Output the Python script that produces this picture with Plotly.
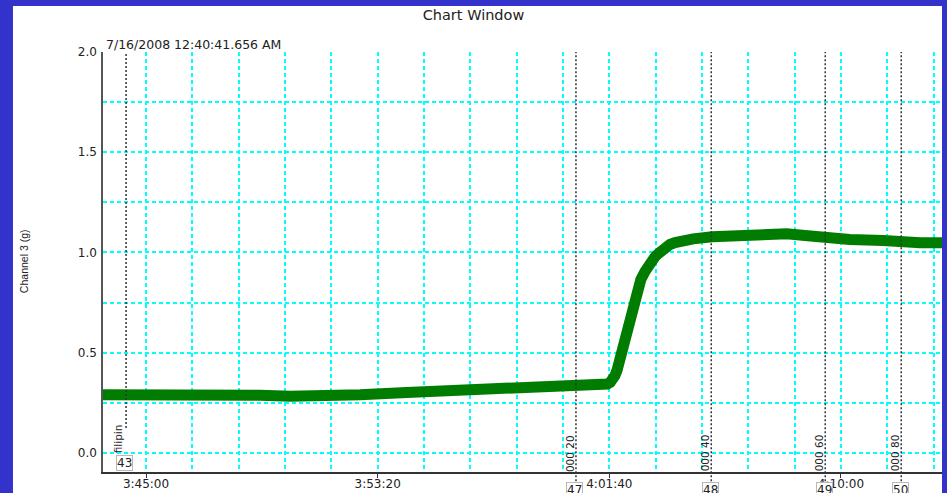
import plotly.graph_objects as go

DAY = "2008-07-16 "

# Channel 3 (g) trace
times = ["03:43:27", "03:44:25", "03:46:56", "03:49:06", "03:50:11", "03:51:59",
         "03:52:42", "03:54:23", "03:55:56", "03:57:07", "03:58:49", "04:00:09",
         "04:00:58", "04:01:26", "04:01:36", "04:01:42", "04:01:48", "04:01:52",
         "04:01:57", "04:02:01", "04:02:09", "04:02:18", "04:02:25", "04:02:33",
         "04:02:40", "04:02:48", "04:02:57", "04:03:03", "04:03:08", "04:03:14",
         "04:03:19", "04:03:27", "04:03:34", "04:03:42", "04:03:51", "04:04:02",
         "04:04:13", "04:04:41", "04:05:22", "04:06:22", "04:07:27", "04:08:03",
         "04:08:42", "04:09:21", "04:10:19", "04:11:31", "04:11:57", "04:12:14",
         "04:12:51", "04:13:40"]
values = [0.290, 0.292, 0.295, 0.288, 0.283, 0.285,
          0.290, 0.302, 0.310, 0.314, 0.318, 0.324,
          0.330, 0.338, 0.344, 0.352, 0.365, 0.385,
          0.415, 0.450, 0.530, 0.620, 0.690, 0.765,
          0.815, 0.865, 0.905, 0.930, 0.950, 0.967,
          0.980, 0.997, 1.012, 1.027, 1.040, 1.049,
          1.056, 1.068, 1.078, 1.087, 1.092, 1.093,
          1.085, 1.072, 1.065, 1.060, 1.055, 1.050,
          1.048, 1.048]

# event markers
marker_times = ["03:44:17", "04:00:28", "04:05:20", "04:09:26", "04:12:10"]
marker_ids = ["43", "47", "48", "49", "50"]
marker_labels = ["filipin", "000 20", "000 40", "000 60", "000 80"]

x_range = ["03:43:27.2", "04:13:38"]
y_range = [-0.095, 2.0]
x_tick0 = "03:45:00"

title_text = "Chart Window"
date_text = "7/16/2008 12:40:41.656 AM"
y_title = "Channel 3 (g)"

BLUE = "#3333cc"
CYAN = "#00ffff"
GREEN = "#007d00"
FONT = "DejaVu Sans"

fig = go.Figure()
fig.add_trace(go.Scatter(
    x=[DAY + t for t in times], y=values, mode="lines",
    line=dict(color=GREEN, width=11), hoverinfo="skip", showlegend=False))

# white panel inside the blue frame
fig.add_shape(type="rect", xref="paper", yref="paper",
              x0=-0.1073, x1=1.0, y0=-0.2, y1=1.1095,
              fillcolor="white", line=dict(width=0), layer="below")

for i, (mt, mid, ml) in enumerate(zip(marker_times, marker_ids, marker_labels)):
    xv = DAY + mt
    first = (i == 0)
    fig.add_shape(type="line", xref="x", yref="paper", x0=xv, x1=xv,
                  y0=0.105 if first else -0.06, y1=1.0,
                  line=dict(color="#333333", width=1.5, dash="2px,2px"))
    fig.add_annotation(x=xv, xref="x", yref="paper",
                       y=0.078 if first else 0.045,
                       text=ml, textangle=-90, showarrow=False,
                       xanchor="center", yanchor="middle",
                       xshift=-8 if first else -6,
                       font=dict(family=FONT, size=10.5, color="#222222"))
    fig.add_annotation(x=xv, xref="x", yref="paper",
                       y=0.021 if first else -0.042,
                       text=mid, showarrow=False, xshift=-2 if first else -1,
                       xanchor="center", yanchor="middle",
                       bgcolor="white", bordercolor="#b8b8b8", borderwidth=1,
                       borderpad=0,
                       font=dict(family=FONT, size=12, color="#222222"))

fig.add_annotation(xref="paper", yref="paper", x=0.0012, y=1.019,
                   xanchor="left", yanchor="middle", text=date_text,
                   showarrow=False, font=dict(family=FONT, size=12.5, color="#222222"))
fig.add_annotation(xref="paper", yref="paper", x=-0.0942, y=0.502,
                   xanchor="center", yanchor="middle",
                   text=y_title, textangle=-90, showarrow=False,
                   font=dict(family="Liberation Sans", size=10.5, color="#222222"))

fig.update_layout(
    width=947, height=493,
    margin=dict(l=103, r=5, t=52, b=21, autoexpand=False),
    paper_bgcolor=BLUE, plot_bgcolor="white",
    title=dict(text=title_text, x=0.5, xref="container", xanchor="center",
               y=1 - 15 / 493, yanchor="middle",
               font=dict(family=FONT, size=14.5, color="#222222")),
    xaxis=dict(type="date", range=[DAY + x_range[0], DAY + x_range[1]],
               automargin=False, ticklabelstandoff=-4,
               tick0=DAY + x_tick0, dtick=500000, tickformat="%-H:%M:%S",
               showgrid=True, gridcolor=CYAN, griddash="4px,3px", gridwidth=2,
               minor=dict(dtick=100000, tick0=DAY + x_tick0, showgrid=True,
                          gridcolor=CYAN, griddash="4px,3px", gridwidth=2),
               ticks="outside", ticklen=4, tickcolor="#333333",
               showline=True, linecolor="#333333", linewidth=1.5,
               zeroline=False, tickfont=dict(family=FONT, size=12, color="#222222")),
    yaxis=dict(range=y_range, tick0=0, dtick=0.5, tickformat=".1f",
               automargin=False,
               showgrid=True, gridcolor=CYAN, griddash="4px,3px", gridwidth=2,
               minor=dict(dtick=0.25, tick0=0, showgrid=True,
                          gridcolor=CYAN, griddash="4px,3px", gridwidth=2),
               ticks="", showline=True, linecolor="#555555", linewidth=1.5,
               zeroline=False, ticklabelstandoff=2,
               tickfont=dict(family=FONT, size=12, color="#222222")),
)

fig.write_html("out.html",
               config={"displayModeBar": False},
               post_script="document.body.style.margin='0';"
                           "document.body.style.overflow='hidden';")
